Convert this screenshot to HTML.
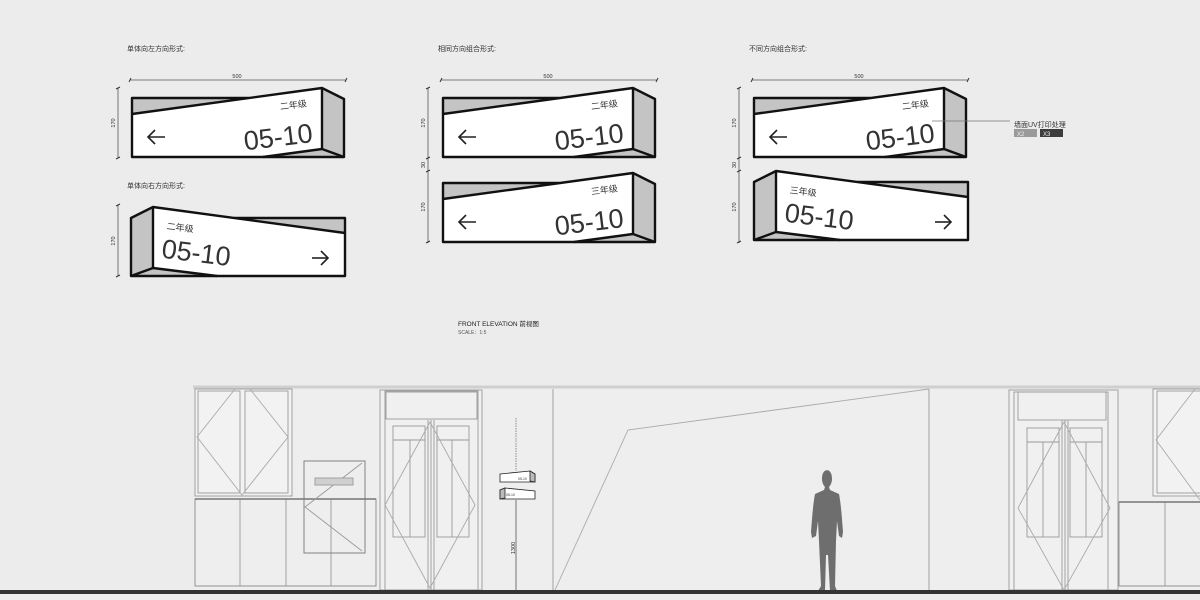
<!DOCTYPE html>
<html><head><meta charset="utf-8"><style>
html,body{margin:0;padding:0;background:#ececec;}
svg{display:block}
text{font-family:"Liberation Sans","Noto Sans CJK SC",sans-serif;}
</style></head><body>
<svg width="1200" height="600" viewBox="0 0 1200 600" xmlns="http://www.w3.org/2000/svg">
<rect width="1200" height="600" fill="#ececec"/>
<defs>
<g id="signL">
  <polygon points="132,98 249,98 132,114" fill="#c4c4c4"/>
  <polygon points="322,88 344,99 344,157 322,149" fill="#c4c4c4"/>
  <polygon points="263,157 322,149 344,157" fill="#c4c4c4"/>
  <polygon points="132,114 322,88 322,149 263,157 132,157" fill="#fff"/>
  <g stroke="#111" stroke-width="2.4" fill="none" stroke-linejoin="round">
    <polyline points="249,98 132,98 132,157 344,157 344,99 322,88 132,114"/>
    <line x1="322" y1="88" x2="322" y2="149"/>
    <polyline points="263,157 322,149 344,157"/>
  </g>
  <g stroke="#222" stroke-width="1.6" fill="none">
    <line x1="148" y1="137" x2="165" y2="137"/><polyline points="155,130 148,137 155,144"/>
  </g>
</g>
<g id="signR">
  <polygon points="131,218 153,207 153,268 131,276" fill="#c4c4c4"/>
  <polygon points="234,218 345,218 345,233" fill="#c4c4c4"/>
  <polygon points="131,276 153,268 217,276" fill="#c4c4c4"/>
  <polygon points="153,207 345,233 345,276 217,276 153,268" fill="#fff"/>
  <g stroke="#111" stroke-width="2.4" fill="none" stroke-linejoin="round">
    <polyline points="234,218 345,218 345,276 131,276 131,218 153,207 345,233"/>
    <line x1="153" y1="207" x2="153" y2="268"/>
    <polyline points="131,276 153,268 217,276"/>
  </g>
  <g stroke="#222" stroke-width="1.6" fill="none">
    <line x1="312" y1="258" x2="328" y2="258"/><polyline points="321,251 328,258 321,265"/>
  </g>
</g>
</defs>

<g font-size="7" fill="#333">
<text x="127" y="51">单体向左方向形式:</text>
<text x="127" y="188">单体向右方向形式:</text>
<text x="438" y="51">相同方向组合形式:</text>
<text x="749" y="51">不同方向组合形式:</text>
</g>

<g stroke="#555" stroke-width="0.8" fill="none">
<line x1="130" y1="80" x2="346" y2="80"/><line x1="441" y1="80" x2="657" y2="80"/><line x1="752" y1="80" x2="968" y2="80"/>
<line x1="118" y1="88" x2="118" y2="158"/><line x1="118" y1="205" x2="118" y2="276"/>
<line x1="428" y1="88" x2="428" y2="243"/>
<line x1="739" y1="88" x2="739" y2="243"/>
</g>
<g stroke="#333" stroke-width="1" >
<line x1="129" y1="82" x2="131" y2="78"/><line x1="345" y1="82" x2="347" y2="78"/>
<line x1="440" y1="82" x2="442" y2="78"/><line x1="656" y1="82" x2="658" y2="78"/>
<line x1="751" y1="82" x2="753" y2="78"/><line x1="967" y1="82" x2="969" y2="78"/>
<line x1="116" y1="89" x2="120" y2="87"/><line x1="116" y1="159" x2="120" y2="157"/>
<line x1="116" y1="206" x2="120" y2="204"/><line x1="116" y1="277" x2="120" y2="275"/>
<line x1="426" y1="89" x2="430" y2="87"/><line x1="426" y1="159" x2="430" y2="157"/><line x1="426" y1="172" x2="430" y2="170"/><line x1="426" y1="243" x2="430" y2="241"/>
<line x1="737" y1="89" x2="741" y2="87"/><line x1="737" y1="159" x2="741" y2="157"/><line x1="737" y1="172" x2="741" y2="170"/><line x1="737" y1="243" x2="741" y2="241"/>
</g>
<g font-size="5.5" fill="#333" text-anchor="middle">
<text x="237" y="78">500</text><text x="548" y="78">500</text><text x="859" y="78">500</text>
<text transform="translate(115,123) rotate(-90)">170</text>
<text transform="translate(115,241) rotate(-90)">170</text>
<text transform="translate(425,123) rotate(-90)">170</text>
<text transform="translate(425,165) rotate(-90)">30</text>
<text transform="translate(425,207) rotate(-90)">170</text>
<text transform="translate(736,123) rotate(-90)">170</text>
<text transform="translate(736,165) rotate(-90)">30</text>
<text transform="translate(736,207) rotate(-90)">170</text>
</g>

<use href="#signL"/>
<use href="#signL" transform="translate(311,0)"/>
<use href="#signL" transform="translate(311,85)"/>
<use href="#signL" transform="translate(622,0)"/>
<use href="#signR"/>
<use href="#signR" transform="translate(623,-36)"/>

<g fill="#333">
<g transform="rotate(-7 280 140)">
 <text x="284" y="110" font-size="9">二年级</text>
 <text x="244" y="146" font-size="27">05-10</text>
</g>
<g transform="translate(311,0) rotate(-7 280 140)">
 <text x="284" y="110" font-size="9">二年级</text>
 <text x="244" y="146" font-size="27">05-10</text>
</g>
<g transform="translate(311,85) rotate(-7 280 140)">
 <text x="284" y="110" font-size="9">三年级</text>
 <text x="244" y="146" font-size="27">05-10</text>
</g>
<g transform="translate(622,0) rotate(-7 280 140)">
 <text x="284" y="110" font-size="9">二年级</text>
 <text x="244" y="146" font-size="27">05-10</text>
</g>
<g transform="rotate(7 165 240)">
 <text x="165" y="229" font-size="9">二年级</text>
 <text x="163" y="258" font-size="27">05-10</text>
</g>
<g transform="translate(623,-36) rotate(7 165 240)">
 <text x="165" y="229" font-size="9">三年级</text>
 <text x="163" y="258" font-size="27">05-10</text>
</g>
</g>

<line x1="932" y1="121" x2="1010" y2="121" stroke="#777" stroke-width="0.8"/>
<text x="1014" y="127" font-size="7" fill="#333">墙面UV打印处理</text>
<rect x="1014" y="129" width="23" height="8" fill="#9a9a9a"/>
<rect x="1040" y="129" width="23" height="8" fill="#3d3d3d"/>
<text x="1017" y="136" font-size="6" fill="#eee">X2</text>
<text x="1043" y="136" font-size="6" fill="#eee">X3</text>

<text x="458" y="326" font-size="6.5" fill="#222">FRONT ELEVATION  前视图</text>
<text x="458" y="334" font-size="5" fill="#555">SCALE：1:5</text>

<rect x="195" y="389" width="1005" height="202" fill="#eeeeee"/>
<line x1="193" y1="387" x2="1200" y2="387" stroke="#cfcfcf" stroke-width="3"/>
<g stroke="#999" stroke-width="0.9" fill="none">
 <rect x="195" y="389" width="97" height="107" fill="#f2f2f2"/>
 <rect x="198" y="391" width="42" height="102"/><rect x="245" y="391" width="43" height="102"/>
 <polyline points="235,389 197,437 242,495 288,437 250,389" stroke="#aaa"/>
 <rect x="195" y="499" width="181" height="87" stroke="#888"/>
 <line x1="240" y1="499" x2="240" y2="586"/><line x1="286" y1="499" x2="286" y2="586"/><line x1="331" y1="499" x2="331" y2="586"/>
 <line x1="195" y1="499" x2="376" y2="499" stroke="#777" stroke-width="1.4"/>
 <rect x="304" y="461" width="61" height="92" stroke="#777"/>
 <polyline points="362,463 305,507 362,551"/>
 <rect x="315" y="478" width="38" height="7" fill="#d0d0d0"/>
 <rect x="380" y="390" width="102" height="200" fill="#f0f0f0"/>
 <rect x="385" y="391" width="93" height="199"/>
 <rect x="386" y="392" width="91" height="27"/>
 <rect x="393" y="426" width="32" height="111"/><rect x="437" y="426" width="32" height="111"/>
 <line x1="393" y1="440" x2="425" y2="440"/><line x1="437" y1="440" x2="469" y2="440"/>
 <line x1="410" y1="440" x2="410" y2="537"/><line x1="452" y1="440" x2="452" y2="537"/>
 <line x1="428" y1="420" x2="428" y2="590"/><line x1="431" y1="420" x2="431" y2="590"/><line x1="434" y1="420" x2="434" y2="590"/>
 <polyline points="430,422 385,505 430,588 475,505 430,422" stroke="#aaa"/>
 <line x1="553" y1="389" x2="553" y2="591"/>
 <polyline points="555,590 628,430 929,389" stroke="#aaa"/>
 <line x1="929" y1="389" x2="929" y2="591"/>
 <rect x="1009" y="390" width="109" height="200" fill="#f0f0f0"/>
 <rect x="1014" y="392" width="94" height="198"/>
 <rect x="1018" y="392" width="88" height="28"/>
 <rect x="1027" y="428" width="32" height="109"/><rect x="1070" y="428" width="32" height="109"/>
 <line x1="1027" y1="442" x2="1059" y2="442"/><line x1="1070" y1="442" x2="1102" y2="442"/>
 <line x1="1043" y1="442" x2="1043" y2="537"/><line x1="1086" y1="442" x2="1086" y2="537"/>
 <line x1="1062" y1="420" x2="1062" y2="590"/><line x1="1065" y1="420" x2="1065" y2="590"/><line x1="1068" y1="420" x2="1068" y2="590"/>
 <polyline points="1064,422 1018,508 1064,590 1110,508 1064,422" stroke="#aaa"/>
 <rect x="1153" y="389" width="50" height="107" fill="#f2f2f2"/>
 <rect x="1157" y="391" width="45" height="102"/>
 <polyline points="1195,389 1156,440 1200,500" stroke="#aaa"/>
 <rect x="1119" y="502" width="90" height="84" stroke="#888"/>
 <line x1="1165" y1="502" x2="1165" y2="586"/>
 <line x1="1119" y1="502" x2="1200" y2="502" stroke="#777" stroke-width="1.4"/>
</g>
<line x1="516" y1="418" x2="516" y2="471" stroke="#777" stroke-width="0.8" stroke-dasharray="1.5,1"/>
<line x1="516" y1="500" x2="516" y2="591" stroke="#555" stroke-width="0.8"/>
<text transform="translate(515,548) rotate(-90)" font-size="5.5" fill="#333" text-anchor="middle">1300</text>
<g stroke="#222" stroke-width="0.8">
<polygon points="500,474 530,471 535,474 535,482 500,482" fill="#fff"/>
<polygon points="530,471 535,474 535,482 530,481" fill="#bbb"/>
<polygon points="500,490 505,488 535,491 535,499 500,499" fill="#fff"/>
<polygon points="500,490 505,488 505,498 500,499" fill="#bbb"/>
</g>
<text x="518" y="480" font-size="3.5" fill="#333">05-10</text>
<text x="506" y="496" font-size="3.5" fill="#333">05-10</text>
<path d="M828,470 c-5,0 -6,5 -6,9 c0,4 2,7 3,8 l-1,3 l-9,4 c-2,10 -3,25 -4,38 l1,6 l4,-2 l2,-15 l1,20 l2,45 l-3,5 l7,0 l1,-36 l2,0 l2,36 l7,0 l-2,-5 l1,-45 l1,-20 l2,15 l3,2 l1,-6 c-1,-13 -2,-28 -4,-38 l-9,-4 l-1,-3 c1,-1 3,-4 3,-8 c0,-4 -1,-9 -6,-9z" fill="#6e6e6e"/>
<rect x="0" y="590" width="1200" height="4" fill="#333"/>
<rect x="0" y="594" width="1200" height="6" fill="#ececec"/>
</svg>
</body></html>
